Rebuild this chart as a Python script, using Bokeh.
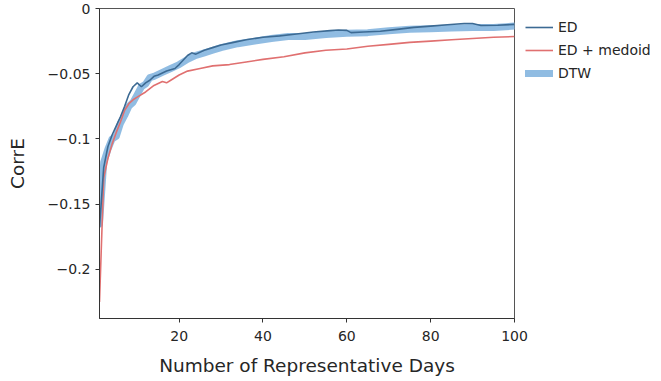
from bokeh.plotting import figure
from bokeh.models import (FixedTicker, CustomJSTickFormatter,
                          Legend, LegendItem, Range1d)
from bokeh.embed import file_html
from bokeh.resources import INLINE

# ---------------- data ----------------
ed_x = [1, 2, 3, 4, 5, 6, 7, 8, 9, 10, 11, 12, 13, 14, 15, 17, 19, 20, 22, 23,
        24, 26, 28, 30, 33, 36, 40, 44, 48, 52, 56, 58, 60, 61, 64, 68, 72, 76,
        80, 84, 88, 90, 92, 96, 100]
ed_y = [-0.168, -0.122, -0.106, -0.097, -0.090, -0.083, -0.075, -0.066, -0.060,
        -0.057, -0.060, -0.057, -0.055, -0.052, -0.051, -0.048, -0.046, -0.043,
        -0.036, -0.034, -0.035, -0.032, -0.030, -0.028, -0.026, -0.024, -0.022,
        -0.021, -0.0195, -0.018, -0.017, -0.0165, -0.0168, -0.0185, -0.018,
        -0.0175, -0.016, -0.0145, -0.0135, -0.0125, -0.0115, -0.0115, -0.013,
        -0.0128, -0.0122]

med_x = [1, 2, 3, 4, 5, 6, 7, 8, 9, 10, 12, 14, 16, 17, 18, 20, 22, 25, 28, 32,
         36, 40, 45, 50, 55, 60, 65, 70, 75, 80, 85, 90, 95, 100]
med_y = [-0.225, -0.130, -0.115, -0.104, -0.095, -0.087, -0.078, -0.073, -0.070,
         -0.068, -0.064, -0.059, -0.056, -0.057, -0.055, -0.051, -0.048, -0.046,
         -0.044, -0.043, -0.041, -0.039, -0.037, -0.034, -0.032, -0.031, -0.029,
         -0.0275, -0.026, -0.025, -0.024, -0.023, -0.022, -0.0215]

dtw_x = [1, 2, 3, 4, 5, 6, 7, 8, 9, 10, 11, 12, 13, 14, 16, 18, 20, 22, 24, 26,
         28, 30, 34, 38, 42, 46, 50, 55, 60, 65, 70, 75, 80, 85, 90, 95, 100]
dtw_y = [-0.165, -0.118, -0.108, -0.100, -0.098, -0.088, -0.082, -0.075, -0.072,
         -0.066, -0.060, -0.058, -0.053, -0.052, -0.049, -0.046, -0.043, -0.039,
         -0.036, -0.034, -0.032, -0.030, -0.027, -0.025, -0.023, -0.0215, -0.0215,
         -0.020, -0.019, -0.0185, -0.017, -0.016, -0.0155, -0.015, -0.0145,
         -0.0145, -0.0135]

x_ticks = [20, 40, 60, 80, 100]
y_ticks = [-0.2, -0.15, -0.1, -0.05, 0]

FONT = "DejaVu Sans"
TXT = "#262626"

p = figure(frame_width=415, frame_height=310, output_backend="svg",
           toolbar_location=None,
           x_range=Range1d(1, 100), y_range=Range1d(-0.2377, 0),
           min_border_left=99, min_border_right=0, min_border_top=8,
           min_border_bottom=63)
p.grid.visible = False
p.outline_line_color = "#555555"
p.outline_line_width = 1
p.background_fill_color = "white"
p.border_fill_color = "white"

dtw = p.line(dtw_x, dtw_y, line_color="#8ab8e0", line_width=7, line_alpha=0.95,
             line_cap="round", line_join="round")
med = p.line(med_x, med_y, line_color="#e07070", line_width=1.6)
ed = p.line(ed_x, ed_y, line_color="#3c6a93", line_width=1.6)

for ax in (p.xaxis[0], p.yaxis[0]):
    ax.major_tick_out = 4
    ax.major_tick_in = 0
    ax.minor_tick_out = 0
    ax.minor_tick_in = 0
    ax.axis_line_color = "#333333"
    ax.major_tick_line_color = "#333333"
    ax.major_label_text_font = FONT
    ax.major_label_text_font_size = "14px"
    ax.major_label_text_color = TXT
    ax.axis_label_text_font = FONT
    ax.axis_label_text_font_size = "18.5px"
    ax.axis_label_text_font_style = "normal"
    ax.axis_label_text_color = TXT

p.xaxis.ticker = FixedTicker(ticks=x_ticks)
p.yaxis.ticker = FixedTicker(ticks=y_ticks)
p.yaxis.formatter = CustomJSTickFormatter(
    code="return tick == 0 ? '0' : '\u2212' + Math.abs(tick).toString();")
p.xaxis.axis_label = "Number of Representative Days"
p.yaxis.axis_label = "CorrE"
p.xaxis.major_label_standoff = 8
p.xaxis.axis_label_standoff = 11
p.yaxis.major_label_standoff = 5
p.yaxis.axis_label_standoff = 17

legend = Legend(items=[LegendItem(label="ED", renderers=[ed]),
                       LegendItem(label="ED + medoid", renderers=[med]),
                       LegendItem(label="DTW", renderers=[dtw])],
                location="top_left", orientation="vertical",
                border_line_color=None, background_fill_alpha=0,
                label_text_font=FONT, label_text_font_size="14px",
                label_text_color=TXT, glyph_width=28, glyph_height=16,
                label_height=16, spacing=7, padding=0, margin=11,
                label_standoff=5)
p.add_layout(legend, "right")

open("out.html", "w").write(file_html(p, INLINE))
